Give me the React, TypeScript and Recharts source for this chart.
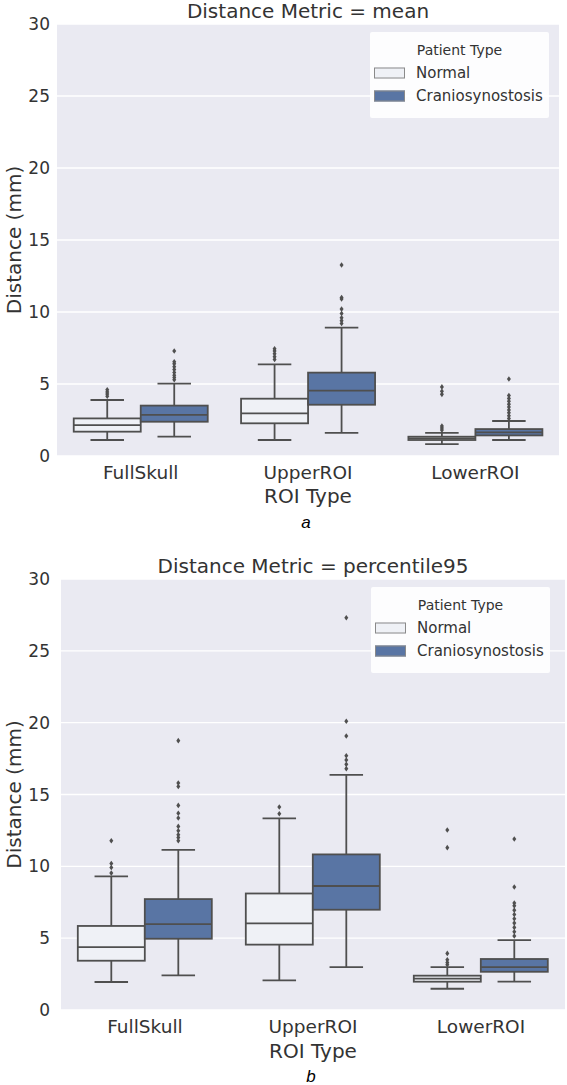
import React from "react";
import { ComposedChart, Bar, XAxis, YAxis, CartesianGrid, Legend } from "recharts";

const FONT = "'DejaVu Sans', sans-serif";
const TEXT = "#333333";
const LINE = "#4f4f4f";

const ROI_TYPES = ["FullSkull", "UpperROI", "LowerROI"];
const Y_TICKS = [0, 5, 10, 15, 20, 25, 30];
const PATIENT_TYPES = ["Normal", "Craniosynostosis"];
const PATIENT_COLORS = ["#eff1f6", "#5975a4"];

// each row: [low whisker, Q1, median, Q3, high whisker], one row per ROI type
const MEAN_NORMAL_BOX = [
  [1.11, 1.69, 2.15, 2.61, 3.89],
  [1.11, 2.27, 2.96, 3.98, 6.36],
  [0.83, 1.11, 1.22, 1.34, 1.6],
];
const MEAN_NORMAL_FLIERS = [
  [4.15, 4.3, 4.45, 4.6],
  [6.7, 6.9, 7.1, 7.3, 7.45],
  [1.8, 1.95, 2.08, 4.28, 4.5, 4.8],
];
const MEAN_CRANIO_BOX = [
  [1.34, 2.38, 2.85, 3.5, 5.02],
  [1.6, 3.56, 4.54, 5.79, 8.91],
  [1.11, 1.43, 1.64, 1.87, 2.43],
];
const MEAN_CRANIO_FLIERS = [
  [5.3, 5.45, 5.6, 5.8, 6.0, 6.2, 6.4, 6.55, 7.29],
  [9.2, 9.4, 9.6, 9.9, 10.2, 10.9, 11.0, 13.26],
  [2.6, 2.8, 3.0, 3.2, 3.4, 3.6, 3.8, 4.0, 4.2, 5.35],
];

const P95_NORMAL_BOX = [
  [1.95, 3.43, 4.38, 5.85, 9.3],
  [2.06, 4.55, 6.03, 8.11, 13.34],
  [1.48, 1.97, 2.18, 2.39, 2.99],
];
const P95_NORMAL_FLIERS = [
  [9.53, 9.92, 10.2, 11.78],
  [13.66, 14.13],
  [3.15, 3.3, 3.5, 3.94, 11.3, 12.53],
];
const P95_CRANIO_BOX = [
  [2.41, 4.96, 5.98, 7.72, 11.14],
  [2.99, 6.98, 8.63, 10.83, 16.37],
  [1.97, 2.66, 2.99, 3.55, 4.87],
];
const P95_CRANIO_FLIERS = [
  [11.78, 12.0, 12.2, 12.48, 12.78, 13.36, 13.7, 14.24, 15.56, 15.8, 18.75],
  [16.8, 17.1, 17.4, 17.7, 19.07, 20.1, 27.3],
  [5.15, 5.45, 5.75, 6.05, 6.35, 6.65, 6.95, 7.25, 7.45, 8.56, 11.9],
];

function buildRows(normalBox: number[][], normalFliers: number[][], cranioBox: number[][], cranioFliers: number[][]) {
  return ROI_TYPES.map((roi, i) => ({
    roi,
    normalRange: [normalBox[i][0], normalBox[i][4]],
    normalBox: normalBox[i],
    normalFliers: normalFliers[i],
    cranioRange: [cranioBox[i][0], cranioBox[i][4]],
    cranioBox: cranioBox[i],
    cranioFliers: cranioFliers[i],
  }));
}

const MEAN_ROWS = buildRows(MEAN_NORMAL_BOX, MEAN_NORMAL_FLIERS, MEAN_CRANIO_BOX, MEAN_CRANIO_FLIERS);
const P95_ROWS = buildRows(P95_NORMAL_BOX, P95_NORMAL_FLIERS, P95_CRANIO_BOX, P95_CRANIO_FLIERS);

// the bar itself spans the whiskers; quartiles and fliers use the same pixel scale
const makeBoxShape = (boxKey: string, fliersKey: string) => (props: any) => {
  const { x, y, width, height, payload, fill } = props;
  const [lo, q1, med, q3, hi] = payload[boxKey];
  const top = Math.min(y, y + height);
  const k = Math.abs(height) / (hi - lo);
  const py = (v: number) => top + (hi - v) * k;
  const cx = x + width / 2;
  const cap = width / 4;
  return (
    <g>
      <line x1={cx} x2={cx} y1={py(hi)} y2={py(q3)} stroke={LINE} strokeWidth={1.8} />
      <line x1={cx} x2={cx} y1={py(q1)} y2={py(lo)} stroke={LINE} strokeWidth={1.8} />
      <line x1={cx - cap} x2={cx + cap} y1={py(hi)} y2={py(hi)} stroke={LINE} strokeWidth={1.8} />
      <line x1={cx - cap} x2={cx + cap} y1={py(lo)} y2={py(lo)} stroke={LINE} strokeWidth={1.8} />
      <rect x={x} y={py(q3)} width={width} height={py(q1) - py(q3)} fill={fill} stroke={LINE} strokeWidth={1.8} />
      <line x1={x} x2={x + width} y1={py(med)} y2={py(med)} stroke={LINE} strokeWidth={1.8} />
      {payload[fliersKey].map((v: number, i: number) => {
        const fy = py(v);
        return (
          <path
            key={i}
            d={`M${cx},${fy - 2.8}L${cx + 2},${fy}L${cx},${fy + 2.8}L${cx - 2},${fy}Z`}
            fill={LINE}
          />
        );
      })}
    </g>
  );
};

const normalShape = makeBoxShape("normalBox", "normalFliers");
const cranioShape = makeBoxShape("cranioBox", "cranioFliers");

function LegendBox() {
  return (
    <div
      style={{
        position: "relative",
        width: 179,
        height: 86,
        background: "rgba(255,255,255,0.88)",
        borderRadius: 2,
        fontFamily: FONT,
        color: TEXT,
      }}
    >
      <div
        style={{
          position: "absolute",
          top: 18,
          left: 0,
          width: 179,
          textAlign: "center",
          fontSize: 14,
          lineHeight: "14px",
          transform: "translateY(-50%)",
        }}
      >
        Patient Type
      </div>
      {PATIENT_TYPES.map((name, i) => (
        <div
          key={name}
          style={{
            position: "absolute",
            top: 41 + i * 23,
            left: 4,
            display: "flex",
            alignItems: "center",
            transform: "translateY(-50%)",
          }}
        >
          <span
            style={{
              display: "inline-block",
              width: 31,
              height: 11,
              boxSizing: "border-box",
              background: PATIENT_COLORS[i],
              border: "1.5px solid #8a8a8a",
            }}
          />
          <span style={{ marginLeft: 11, fontSize: 15, lineHeight: "15px" }}>{name}</span>
        </div>
      ))}
    </div>
  );
}

interface PanelProps {
  title: string;
  caption: string;
  rows: any[];
  height: number;
  margin: { top: number; right: number; bottom: number; left: number };
  yWidth: number;
  legendTop: number;
  legendLeft: number;
  titleY: number;
  captionY: number;
  labelOffset: number;
}

function Panel(p: PanelProps) {
  const plotLeft = p.margin.left + p.yWidth;
  const plotRight = 567 - p.margin.right;
  const plotTop = p.margin.top;
  const plotBottom = p.height - p.margin.bottom - 50;
  const midX = (plotLeft + plotRight) / 2;
  const midY = (plotTop + plotBottom) / 2;
  return (
    <div style={{ position: "relative", width: 567, height: p.height, fontFamily: FONT }}>
      <ComposedChart
        width={567}
        height={p.height}
        data={p.rows}
        margin={p.margin}
        barCategoryGap="10%"
        barGap={0}
        style={{ fontFamily: FONT }}
      >
        <CartesianGrid vertical={false} stroke="#ffffff" strokeWidth={1.3} fill="#eaeaf2" />
        <XAxis
          dataKey="roi"
          height={50}
          tickLine={false}
          axisLine={false}
          interval={0}
          tickMargin={4}
          tick={{ fontSize: 18.5, fill: TEXT, fontFamily: FONT }}
          label={{ value: "ROI Type", position: "insideBottom", offset: p.labelOffset, fontSize: 20, fill: TEXT, fontFamily: FONT }}
        />
        <YAxis
          type="number"
          domain={[0, 30]}
          ticks={Y_TICKS}
          width={p.yWidth}
          tickLine={false}
          axisLine={false}
          tickMargin={p.yWidth - 57 + 1}
          tick={{ fontSize: 17, fill: TEXT, fontFamily: FONT }}
        />
        <Legend
          verticalAlign="middle"
          align="center"
          layout="horizontal"
          wrapperStyle={{ top: p.legendTop, left: p.legendLeft, width: 179, height: 86 }}
          content={() => <LegendBox />}
        />
        <Bar dataKey="normalRange" name={PATIENT_TYPES[0]} fill={PATIENT_COLORS[0]} shape={normalShape} isAnimationActive={false} />
        <Bar dataKey="cranioRange" name={PATIENT_TYPES[1]} fill={PATIENT_COLORS[1]} shape={cranioShape} isAnimationActive={false} />
      </ComposedChart>
      <svg
        width={567}
        height={p.height}
        style={{ position: "absolute", left: 0, top: 0, pointerEvents: "none" }}
      >
        <text x={midX} y={p.titleY} textAnchor="middle" fontSize={20} fill={TEXT} fontFamily={FONT}>
          {p.title}
        </text>
        <text
          x={21}
          y={midY}
          textAnchor="middle"
          fontSize={20}
          fill={TEXT}
          fontFamily={FONT}
          transform={`rotate(-90 21 ${midY})`}
        >
          Distance (mm)
        </text>
        <text
          x={midX - 2}
          y={p.captionY}
          textAnchor="middle"
          fontSize={17}
          fontStyle="italic"
          fill="#000"
          fontFamily="'Liberation Sans', Arial, sans-serif"
        >
          {p.caption}
        </text>
      </svg>
    </div>
  );
}

export default function App() {
  return (
    <div style={{ width: 567, height: 1085, background: "#fff" }}>
      <style>{`body { margin: 0; }`}</style>
      <Panel
        title="Distance Metric = mean"
        caption="a"
        rows={MEAN_ROWS}
        height={540}
        margin={{ top: 24, right: 8, bottom: 34, left: 0 }}
        yWidth={57}
        legendTop={32}
        legendLeft={370}
        titleY={18}
        captionY={528}
        labelOffset={3}
      />
      <Panel
        title="Distance Metric = percentile95"
        caption="b"
        rows={P95_ROWS}
        height={545}
        margin={{ top: 39, right: 2, bottom: 25, left: 0 }}
        yWidth={61}
        legendTop={47}
        legendLeft={371}
        titleY={33}
        captionY={542}
        labelOffset={2}
      />
    </div>
  );
}
